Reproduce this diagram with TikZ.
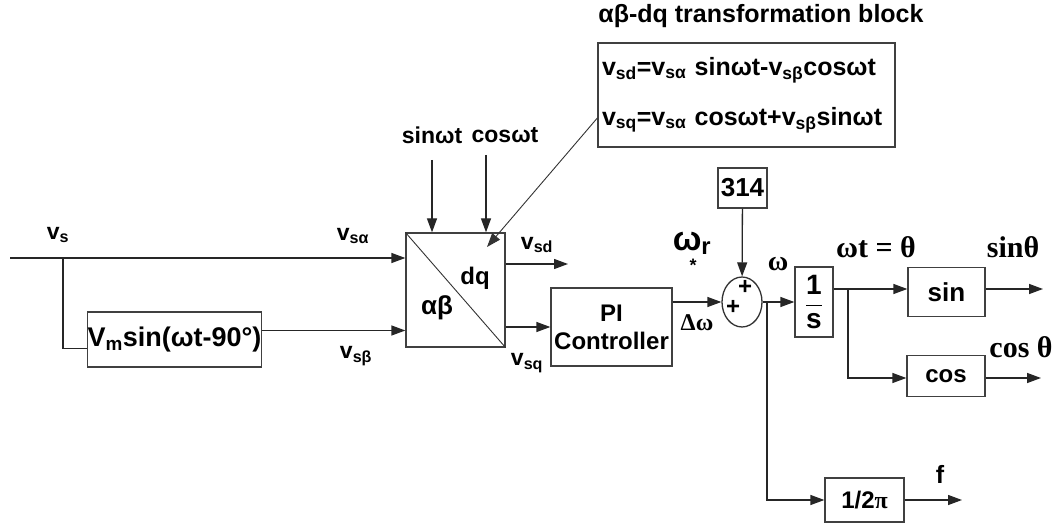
\documentclass[tikz,border=0pt]{standalone}
\usepackage{fontspec}
\setmainfont{Liberation Sans}
\newfontfamily\serifgr{Liberation Serif}
\usetikzlibrary{arrows.meta, positioning, calc, shapes.geometric}
\newcommand{\fsz}[1]{\fontsize{#1}{#1}\selectfont}

\begin{document}
\begin{tikzpicture}[
    x=1pt, y=-1pt,
    blk/.style={
        rectangle, draw=black!75, line width=1.3pt, inner sep=0pt,
        font=\fsz{23}\bfseries, align=center
    },
    lbl/.style={font=\fsz{23}\bfseries, inner sep=0pt},
    slbl/.style={font=\serifgr\fsz{30}\bfseries, inner sep=0pt},
    wire/.style={line width=1.3pt, black!85},
    arr/.style={wire, -{Triangle[length=14pt, width=10pt]}},
    lead/.style={line width=0.9pt, black!80, -{Triangle[length=14pt, width=10pt]}}
]
\useasboundingbox (0,0) rectangle (1056,526);

% ===================================================================
% BLOCKS
% ===================================================================
\node[blk, minimum width=173, minimum height=55, font=\fsz{27}\bfseries]
    (vm) at (174.5,339.5) {V\textsubscript{m}sin(ωt-90°)};
\node[blk, minimum width=99, minimum height=114] (tf) at (455.5,290) {};
\draw[line width=0.9pt, black!80] (tf.north west) -- (tf.south east);
\node[blk, minimum width=121, minimum height=78, font=\fsz{24}\bfseries]
    (pi) at (611.5,327) {PI\\[4pt]Controller};
\node[blk, minimum width=49, minimum height=40, font=\fsz{26}\bfseries]
    (c314) at (742.5,188) {314};
\node[ellipse, draw=black!80, line width=1.3pt, minimum width=40,
      minimum height=50, inner sep=0pt] (sum) at (742,302) {};
\node[blk, minimum width=38, minimum height=70, font=\fsz{28}\bfseries]
    (integ) at (814,302) {$\displaystyle\frac{\mathbf{1}}{\mathbf{s}}$};
\node[blk, minimum width=77, minimum height=49, font=\fsz{26}\bfseries]
    (sinb) at (946.5,292) {sin};
\node[blk, minimum width=78, minimum height=41, font=\fsz{24}\bfseries]
    (cosb) at (946,376) {cos};
\node[blk, minimum width=79, minimum height=44, font=\fsz{24}\bfseries]
    (half) at (864.5,500) {1/2{\serifgr π}};

% transformation block text
\node[blk, minimum width=297, minimum height=104, text width=289,
      inner xsep=4pt, align=left,
      font=\fontsize{25}{50}\selectfont\bfseries]
    (fbox) at (746.5,95) {%
    \mbox{v\textsubscript{sd}=v\textsubscript{sα} sinωt-v\textsubscript{sβ}cosωt}\\
    \mbox{v\textsubscript{sq}=v\textsubscript{sα} cosωt+v\textsubscript{sβ}sinωt}};
\node[lbl, font=\fsz{25}\bfseries] (title) at (761,16)
    {αβ-dq transformation block};

% ===================================================================
% LABELS
% ===================================================================
\node[lbl] (lvs) at (58,235) {v\textsubscript{s}};
\node[lbl] (lvsa) at (353,236) {v\textsubscript{sα}};
\node[lbl] (lvsb) at (356,356) {v\textsubscript{sβ}};
\node[lbl] (lsin) at (432,135) {sinωt};
\node[lbl] (lcos) at (505,135) {cosωt};
\node[lbl, font=\fsz{26}\bfseries] (lab) at (437,308) {αβ};
\node[lbl, font=\fsz{24}\bfseries] (ldq) at (475,278) {dq};
\node[lbl] (lvsd) at (537,245) {v\textsubscript{sd}};
\node[lbl] (lvsq) at (527,363) {v\textsubscript{sq}};
\node[lbl, font=\fsz{34}\bfseries] (lwr) at (692,243) {ω\textsubscript{r}};
\node[lbl, font=\fsz{18}\bfseries] (lstar) at (693,265) {*};
\node[slbl, font=\serifgr\fsz{24}\bfseries] (ldw) at (697,323) {Δω};
\node[lbl, font=\fsz{24}\bfseries] (lp1) at (745,287) {+};
\node[lbl, font=\fsz{24}\bfseries] (lp2) at (733,307) {+};
\node[slbl, font=\serifgr\fsz{28}\bfseries] (lw) at (778,264) {ω};
\node[slbl] (lth) at (876,247) {ωt = θ};
\node[slbl] (lsth) at (1013,247) {sinθ};
\node[slbl] (lcth) at (1021,347) {cos θ};
\node[lbl, font=\fsz{25}\bfseries] (lf) at (940,474) {f};

% ===================================================================
% CONNECTORS
% ===================================================================
\coordinate (src) at (10,258);
\coordinate (vsbr) at (63,258);
\coordinate (vmout) at ($(vm.east)+(0,-9)$);
\coordinate (sinin) at (432,160);
\coordinate (cosin) at (486,155);
\coordinate (vsdout) at (568,264);
\coordinate (leadend) at (487,247);
\coordinate (wbr) at (767,302);
\coordinate (thbr) at (848,289);
\coordinate (sinout) at (1043,289);
\coordinate (cosout) at (1041,378);
\coordinate (fout) at (962,500);

\draw[arr] (src) -- (src -| tf.west);
\draw[wire] (vsbr) |- ($(vm.west)+(0,9)$);
\draw[arr] (vmout) -- (vmout -| tf.west);
\draw[arr] (sinin) -- (sinin |- tf.north);
\draw[arr] (cosin) -- (cosin |- tf.north);
\draw[arr] (vsdout -| tf.east) -- (vsdout);
\draw[arr] (tf.east |- pi.west) -- (pi.west);
\draw[lead] ($(fbox.west)+(0,23)$) -- (leadend);
\draw[arr] (pi.east |- sum.west) -- (sum.west);
\draw[arr] (c314) -- (sum);
\draw[arr] (sum) -- (integ);
\draw[arr] (wbr) |- (half.west);
\draw[arr] (half) -- (fout);
\draw[arr] (thbr -| integ.east) -- (thbr -| sinb.west);
\draw[arr] (thbr) |- (cosout -| cosb.west);
\draw[arr] (sinout -| sinb.east) -- (sinout);
\draw[arr] (cosout -| cosb.east) -- (cosout);

\end{tikzpicture}
\end{document}
